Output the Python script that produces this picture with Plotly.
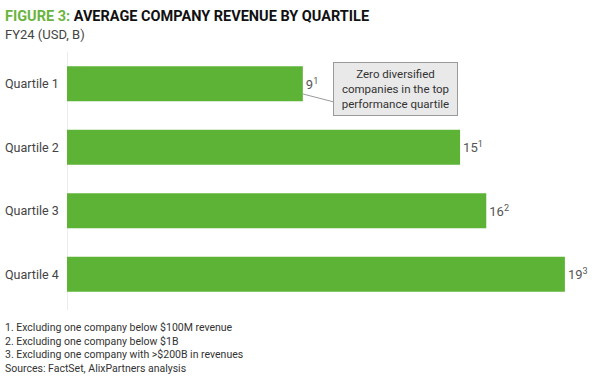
import plotly.graph_objects as go

categories = ["Quartile 1", "Quartile 2", "Quartile 3", "Quartile 4"]
revenue = [9, 15, 16, 19]
footnote_marks = ["1", "1", "2", "3"]
footnotes = [
    "1. Excluding one company below $100M revenue",
    "2. Excluding one company below $1B",
    "3. Excluding one company with >$200B in revenues",
    "Sources: FactSet, AlixPartners analysis",
]

GREEN = "#5db336"
W, H = 600, 378
ML, MR, MT, MB = 67, 0, 52, 72
pw, ph = W - ML - MR, H - MT - MB

def fx(p):
    return (p - ML) / pw
def fy(p):
    return 1 - (p - MT) / ph

labels = [f"{v}<sup>{m}</sup>" for v, m in zip(revenue, footnote_marks)]

fig = go.Figure(go.Bar(
    y=categories, x=revenue, orientation="h",
    marker=dict(color=GREEN, line=dict(width=0)),
    text=labels, textposition="outside",
    textfont=dict(family="Roboto", size=13, color="#555"),
    cliponaxis=False, hoverinfo="skip",
))

annotations = [
    dict(text="<b><span style='color:#6ab43e'>FIGURE 3:</span> AVERAGE COMPANY REVENUE BY QUARTILE</b>",
         xref="paper", yref="paper", x=fx(3), y=fy(6), xanchor="left", yanchor="top",
         showarrow=False, font=dict(family="Roboto", size=14.5, color="#111")),
    dict(text="FY24 (USD, B)", xref="paper", yref="paper", x=fx(3), y=fy(25),
         xanchor="left", yanchor="top", showarrow=False,
         font=dict(family="Roboto", size=13, color="#444")),
    dict(text="Zero diversified<br>companies in the top<br>performance quartile",
         xref="paper", yref="paper", x=fx(395), y=fy(89), xanchor="center", yanchor="middle",
         showarrow=False, font=dict(family="Roboto", size=11.5, color="#333"),
         bgcolor="#e9e9e9", bordercolor="#9a9a9a", borderwidth=1, borderpad=4, width=115, align="center"),
]
for c in categories:
    annotations.append(dict(text=c, xref="paper", yref="y", x=fx(3), y=c, xanchor="left",
                            yanchor="middle", showarrow=False,
                            font=dict(family="Roboto", size=12.5, color="#444")))
for i, t in enumerate(footnotes):
    annotations.append(dict(text=t, xref="paper", yref="paper", x=fx(3), y=fy(319 + i * 13.6),
                            xanchor="left", yanchor="top", showarrow=False,
                            font=dict(family="Roboto", size=10.5, color="#333")))

shapes = [
    dict(type="line", xref="paper", yref="paper",
         x0=fx(303), y0=fy(94), x1=fx(334), y1=fy(102),
         line=dict(color="#9a9a9a", width=1)),
    dict(type="line", xref="x", yref="paper", x0=0, x1=0, y0=fy(52), y1=fy(310),
         line=dict(color="#d9d9d9", width=1), layer="below"),
]

fig.update_layout(
    width=W, height=H, margin=dict(l=ML, r=MR, t=MT, b=MB),
    paper_bgcolor="white", plot_bgcolor="white",
    bargap=0.45, showlegend=False,
    xaxis=dict(range=[0, 20.34], visible=False, fixedrange=True),
    yaxis=dict(autorange="reversed", showgrid=False, showline=False, zeroline=False,
               showticklabels=False, ticks="", fixedrange=True),
    annotations=annotations, shapes=shapes,
    font=dict(family="Roboto"),
)
fig.write_html("out.html", config={"displayModeBar": False},
               post_script="document.body.style.margin='0';document.body.style.padding='0';")
